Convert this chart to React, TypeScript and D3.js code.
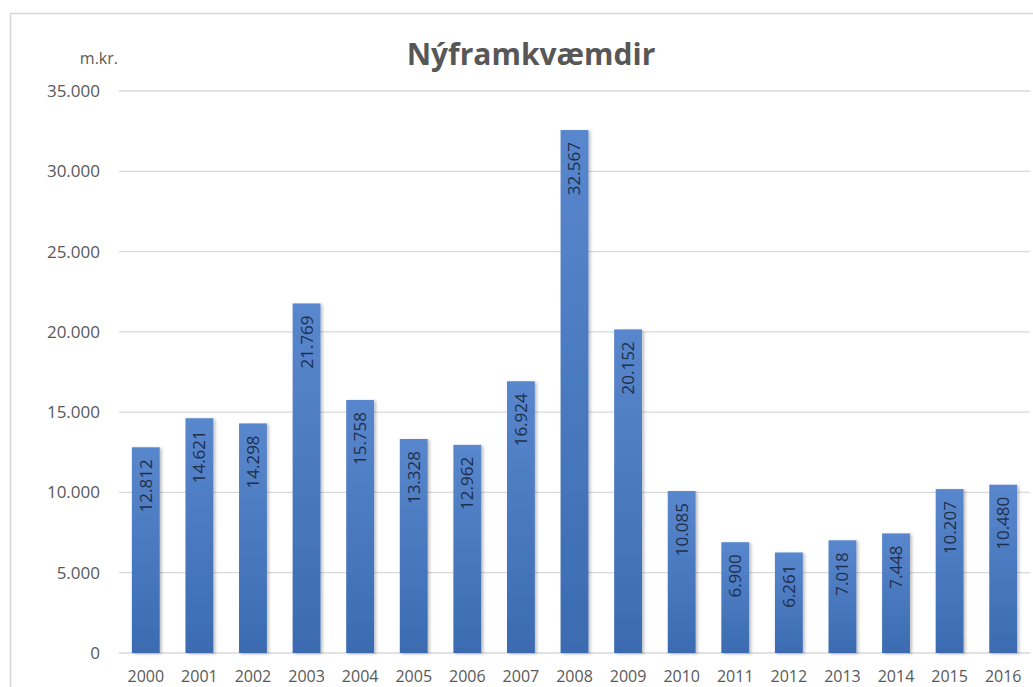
import React from "react";
import * as d3 from "d3";

const years = ["2000","2001","2002","2003","2004","2005","2006","2007","2008","2009","2010","2011","2012","2013","2014","2015","2016"];
const values = [12812, 14621, 14298, 21769, 15758, 13328, 12962, 16924, 32567, 20152, 10085, 6900, 6261, 7018, 7448, 10207, 10480];
const yTicks = [0, 5000, 10000, 15000, 20000, 25000, 30000, 35000];
const title = "Nýframkvæmdir";
const unitLabel = "m.kr.";

const W = 1033, H = 687;
const locale = d3.formatLocale({ thousands: ".", decimal: ",", grouping: [3], currency: ["", ""] });
const fmt = locale.format(",d");

export default function App() {
  const x = d3.scaleBand<string>().domain(years).range([119, 1030]).paddingInner(0.48).paddingOuter(0.24);
  const y = d3.scaleLinear().domain([0, 35000]).range([653, 91]);
  const font = "'Open Sans', 'Noto Sans', sans-serif";
  return (
    <svg width={W} height={H} style={{ position: "absolute", left: 0, top: 0, background: "#fff" }} fontFamily={font}>
      <defs>
        <linearGradient id="barGrad" x1="0" y1="0" x2="0" y2="1">
          <stop offset="0" stopColor="#5987cd" />
          <stop offset="1" stopColor="#3b6bb1" />
        </linearGradient>
        <filter id="shadow" x="-20%" y="-5%" width="150%" height="115%">
          <feDropShadow dx="2" dy="1" stdDeviation="1.5" floodColor="#000" floodOpacity="0.25" />
        </filter>
      </defs>
      <rect x={10.5} y={13.5} width={1100} height={800} fill="#fff" stroke="#d6d6d6" strokeWidth={1.5} />
      <text x={531} y={65} textAnchor="middle" fontSize={30} fontWeight="bold" fill="#575757">{title}</text>
      <text x={118} y={64} textAnchor="end" fontSize={16} fill="#595959">{unitLabel}</text>
      {yTicks.map((t) => (
        <g key={t}>
          <line x1={119} x2={1030} y1={y(t)} y2={y(t)} stroke="#d9d9d9" strokeWidth={1.3} />
          <text x={100} y={y(t)} dy="0.35em" textAnchor="end" fontSize={17} fill="#595959">{fmt(t)}</text>
        </g>
      ))}
      {years.map((yr, i) => {
        const bx = x(yr)!;
        const bw = x.bandwidth();
        const top = y(values[i]);
        const cx = bx + bw / 2;
        return (
          <g key={yr}>
            <rect x={bx} y={top} width={bw} height={y(0) - top} fill="url(#barGrad)" filter="url(#shadow)" />
            <text transform={`translate(${cx},${top + 12}) rotate(-90)`} dy="0.35em" textAnchor="end" fontSize={17} fill="#1f2f4a">{fmt(values[i])}</text>
            <text x={cx} y={682} textAnchor="middle" fontSize={16} fill="#595959">{yr}</text>
          </g>
        );
      })}
    </svg>
  );
}
